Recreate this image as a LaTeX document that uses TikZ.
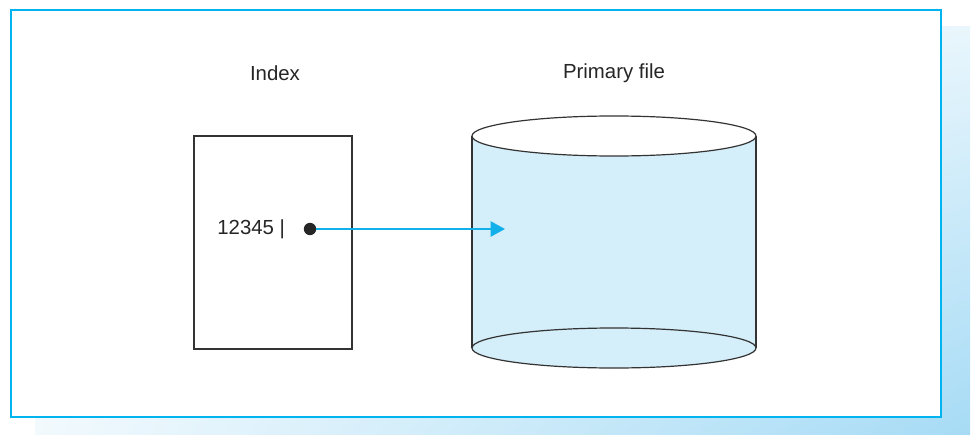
\documentclass[tikz,border=0pt]{standalone}
\usepackage{fontspec}
\setmainfont{Liberation Sans}
\usepackage{tikz}
\usetikzlibrary{arrows.meta, positioning, calc, shadings}

\definecolor{frameblue}{HTML}{00B4EF}
\definecolor{arrowblue}{HTML}{12B0EA}
\definecolor{cylblue}{HTML}{D4EEFA}
\definecolor{shadowblue}{HTML}{A6DBF5}
\definecolor{edgegray}{HTML}{333333}

\begin{document}
\begin{tikzpicture}[x=0.25mm, y=-0.25mm, >=Stealth,
  lbl/.style={font=\fontsize{14.5pt}{17pt}\selectfont, text=black!85},
  frame/.style={draw=frameblue, line width=0.68mm, fill=white},
  indexbox/.style={draw=edgegray, line width=0.3mm, minimum width=39.5mm,
                   minimum height=53.25mm, inner sep=0pt},
  dot/.style={circle, fill=black!85, minimum size=3.1mm, inner sep=0pt},
  cyl/.style={draw=edgegray, line width=0.3mm},
  pointer/.style={-{Triangle[length=3.6mm, width=3.8mm]}, draw=arrowblue, line width=0.5mm}]
\useasboundingbox (0,0) rectangle (974,435);

% Shadow behind the frame
\shade[upper left=white, upper right=shadowblue!25, lower left=shadowblue!15,
       lower right=shadowblue] (35,27) rectangle (970,435);

% Outer frame
\draw[frame] (11,10) rectangle (941,417);

% Headings
\node[lbl] (indexlbl) at (275,73) {Index};
\node[lbl] (primarylbl) at (614,73) {Primary file};

% Index page
\node[indexbox] (index) at (273,242.5) {};
\node[lbl, anchor=east] (key) at (290,229) {12345 |};
\node[dot] (ptr) at (310,229) {};

% Primary file (cylinder)
\fill[cylblue] (472,136) rectangle (756,348);
\draw[cyl, fill=cylblue] (614,348) ellipse [x radius=35.5mm, y radius=5mm];
\draw[cyl] (472,136) -- (472,348);
\draw[cyl] (756,136) -- (756,348);
\draw[cyl, fill=white] (614,136) ellipse [x radius=35.5mm, y radius=5mm];

% Pointer into the file
\coordinate (target) at (505,229);
\draw[pointer] (ptr) -- (target);
\end{tikzpicture}
\end{document}
